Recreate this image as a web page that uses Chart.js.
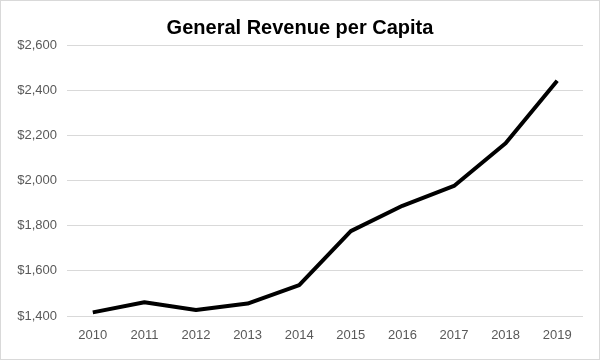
<!DOCTYPE html>
<html>
<head>
<meta charset="utf-8">
<script src="https://cdn.jsdelivr.net/npm/chart.js@4"></script>
<style>
html,body{margin:0;padding:0;background:#fff;}
canvas{display:block;}
</style>
</head>
<body>
<canvas id="c" width="600" height="360"></canvas>
<script>
const categories = ["2010","2011","2012","2013","2014","2015","2016","2017","2018","2019"];
const revenue = [1416, 1461, 1427, 1455, 1537, 1776, 1888, 1976, 2165, 2442];
const yTicks = [1400, 1600, 1800, 2000, 2200, 2400, 2600];

const borderPlugin = {
  id: 'frame',
  beforeDraw(chart) {
    const ctx = chart.ctx;
    ctx.save();
    ctx.fillStyle = '#fff';
    ctx.fillRect(0, 0, chart.width, chart.height);
    ctx.strokeStyle = '#d9d9d9';
    ctx.lineWidth = 1;
    ctx.strokeRect(0.5, 0.5, chart.width - 1, chart.height - 1);
    ctx.restore();
  }
};

new Chart(document.getElementById('c'), {
  type: 'line',
  data: {
    labels: categories,
    datasets: [{
      data: revenue,
      borderColor: '#000',
      borderWidth: 4,
      pointRadius: 0,
      tension: 0,
      borderJoinStyle: 'round',
      borderCapStyle: 'butt',
      fill: false
    }]
  },
  options: {
    responsive: false,
    animation: false,
    devicePixelRatio: 1,
    layout: { padding: 0 },
    plugins: {
      legend: { display: false },
      tooltip: { enabled: false },
      title: {
        display: true,
        text: 'General Revenue per Capita',
        color: '#000',
        font: { family: 'Liberation Sans', size: 20, weight: 'bold', lineHeight: 1.2 },
        padding: { top: 16, bottom: 5 }
      }
    },
    scales: {
      x: {
        offset: true,
        grid: { display: false, drawTicks: false },
        border: { display: false },
        ticks: { color: '#595959', font: { family: 'Liberation Sans', size: 13 }, padding: 12, maxRotation: 0 },
        afterFit(s) { s.height = 44; }
      },
      y: {
        min: 1400,
        max: 2600,
        afterBuildTicks(s) { s.ticks = yTicks.map(v => ({ value: v })); },
        grid: { color: '#d9d9d9', lineWidth: 1, drawTicks: false },
        border: { display: false },
        ticks: {
          color: '#595959',
          font: { family: 'Liberation Sans', size: 13 },
          padding: 10,
          callback: v => '$' + v.toLocaleString('en-US')
        },
        afterFit(s) { s.width = 67; }
      },
      yRight: {
        position: 'right',
        grid: { display: false, drawTicks: false },
        border: { display: false },
        ticks: { display: false },
        afterFit(s) { s.width = 17; }
      }
    }
  },
  plugins: [borderPlugin]
});
</script>
</body>
</html>
